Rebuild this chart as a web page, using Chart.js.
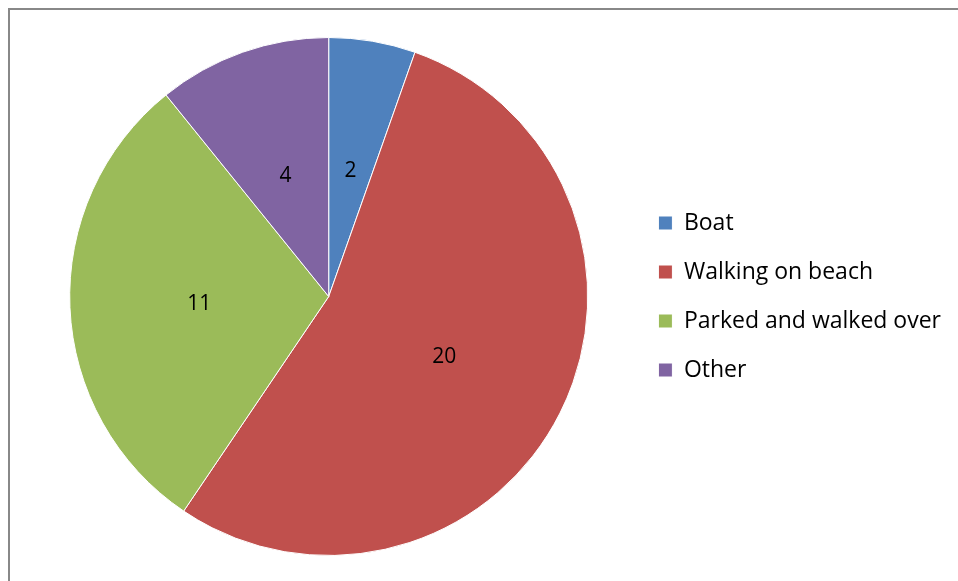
<!DOCTYPE html>
<html>
<head>
<meta charset="utf-8">
<script src="https://cdn.jsdelivr.net/npm/chart.js@4"></script>
<style>
  html, body { margin: 0; padding: 0; background: #fff; overflow: hidden; }
  #frame {
    position: absolute; left: 8px; top: 8px; width: 960px; height: 600px;
    border-left: 2px solid #888; border-top: 2px solid #888;
  }
  #chart { position: absolute; left: 0; top: 0; }
</style>
</head>
<body>
<div id="frame"></div>
<canvas id="chart" width="958" height="581"></canvas>
<script>
const categories = ['Boat', 'Walking on beach', 'Parked and walked over', 'Other'];
const counts = [2, 20, 11, 4];
const colors = ['#4F81BD', '#C0504D', '#9BBB59', '#8064A2'];

const fontFamily = '"Open Sans", Lato, sans-serif';

// writes each slice's count in the middle of the slice
const sliceLabels = {
  id: 'sliceLabels',
  afterDatasetsDraw(chart) {
    const ctx = chart.ctx;
    const meta = chart.getDatasetMeta(0);
    ctx.save();
    ctx.font = '21px ' + fontFamily;
    ctx.fillStyle = '#000';
    ctx.textAlign = 'center';
    ctx.textBaseline = 'middle';
    meta.data.forEach((arc, i) => {
      const p = arc.getCenterPoint();
      ctx.fillText(String(counts[i]), p.x, p.y + 2);
    });
    ctx.restore();
  }
};

new Chart(document.getElementById('chart'), {
  type: 'pie',
  data: {
    labels: categories,
    datasets: [{
      data: counts,
      backgroundColor: colors,
      borderColor: '#ffffff',
      borderWidth: 1
    }]
  },
  options: {
    responsive: false,
    animation: false,
    layout: { padding: { left: 25, top: 37, bottom: 25, right: 7 } },
    plugins: {
      tooltip: { enabled: false },
      legend: {
        position: 'right',
        labels: {
          boxWidth: 14,
          boxHeight: 14,
          padding: 26,
          color: '#000',
          font: { size: 23, family: fontFamily }
        }
      }
    }
  },
  plugins: [sliceLabels]
});
</script>
</body>
</html>
